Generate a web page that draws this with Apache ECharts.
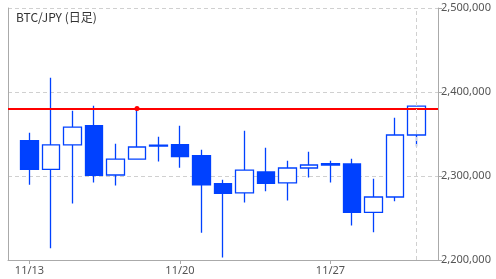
<!DOCTYPE html>
<html><head><meta charset="utf-8">
<script src="https://cdn.jsdelivr.net/npm/echarts@6/dist/echarts.min.js"></script>
<style>html,body{margin:0;padding:0;background:#fff}#c{width:496px;height:279px}</style>
</head><body><div id="c"></div>
<script>
const dates = ['11/12','11/13','11/14','11/15','11/16','11/17','11/18','11/19','11/20','11/21','11/22','11/23','11/24','11/25','11/26','11/27','11/28','11/29','11/30','12/1','12/2'];
const opens  = [null,2342000,2308000,2337000,2360000,2301200,2320200,2335500,2337300,2324200,2290800,2279800,2304800,2291700,2309500,2313000,2314300,2256700,2275000,2348800,null];
const closes = [null,2308000,2337000,2358300,2300700,2320200,2334500,2336700,2323000,2289600,2279300,2307100,2291200,2309500,2313100,2314600,2256700,2275000,2348800,2383300,null];
const lows   = [null,2289600,2214000,2267400,2292400,2288800,2320200,2317400,2309900,2232500,2203100,2268600,2281700,2270900,2298300,2292400,2241200,2232900,2269800,2335200,null];
const highs  = [null,2351500,2417000,2377700,2383700,2338500,2380500,2346800,2359900,2331300,2295600,2353900,2333700,2318200,2328900,2318200,2320600,2296800,2369400,2383300,null];
const yTicks = [2200000, 2300000, 2400000, 2500000];
const refLevel = 2380500;
const refDate = '11/18';
const cursorDate = '12/1';

const candles = dates.map((d, i) => opens[i] == null ? '-' : [opens[i], closes[i], lows[i], highs[i]]);
const blue = '#0041ff';
const fmt = v => String(v).replace(/\B(?=(\d{3})+(?!\d))/g, ',');

const chart = echarts.init(document.getElementById('c'));
chart.setOption({
  animation: false,
  backgroundColor: '#fff',
  title: { text: 'BTC/JPY (日足)', left: 11, top: 6, textStyle: { fontSize: 12, fontWeight: 'normal', color: '#333', fontFamily: 'Noto Sans CJK JP, sans-serif' } },
  grid: { left: 8, right: 58, top: 8, bottom: 19 },
  xAxis: {
    type: 'category', data: dates, boundaryGap: false,
    axisLine: { lineStyle: { color: '#aaa', width: 1 } },
    axisTick: { interval: i => (i - 1) % 7 === 0, length: 4, lineStyle: { color: '#aaa' } },
    axisLabel: { interval: i => (i - 1) % 7 === 0, color: '#555', fontSize: 11, margin: 5, fontFamily: 'Noto Sans, sans-serif' },
    splitLine: { show: false }
  },
  yAxis: [{
    type: 'value', position: 'right', min: yTicks[0], max: yTicks[yTicks.length - 1], interval: 100000,
    axisLine: { show: true, lineStyle: { color: '#aaa' } },
    axisTick: { show: true, length: 4, lineStyle: { color: '#aaa' } },
    axisLabel: { color: '#555', fontSize: 11, margin: 3, formatter: fmt, fontFamily: 'Noto Sans, sans-serif' },
    splitLine: { show: true, lineStyle: { color: '#d0d0d0', type: [4, 3] } }
  }, {
    type: 'value', position: 'left', min: yTicks[0], max: yTicks[yTicks.length - 1],
    axisLine: { show: true, lineStyle: { color: '#aaa' } },
    axisTick: { show: false }, axisLabel: { show: false }, splitLine: { show: false }
  }],
  series: [{
    type: 'candlestick', data: candles, barWidth: 18,
    itemStyle: { color: '#fff', color0: blue, borderColor: blue, borderColor0: blue, borderWidth: 1.3 },
    markLine: {
      symbol: 'none', silent: true, label: { show: false },
      data: [
        { yAxis: refLevel, lineStyle: { color: '#ff0000', width: 2, type: 'solid' } },
        { xAxis: cursorDate, lineStyle: { color: '#d0d0d0', width: 1, type: [4, 3] } }
      ]
    },
    markPoint: {
      symbol: 'circle', symbolSize: 5, label: { show: false },
      itemStyle: { color: '#ff0000' },
      data: [{ coord: [refDate, refLevel] }]
    }
  }]
});
</script></body></html>
